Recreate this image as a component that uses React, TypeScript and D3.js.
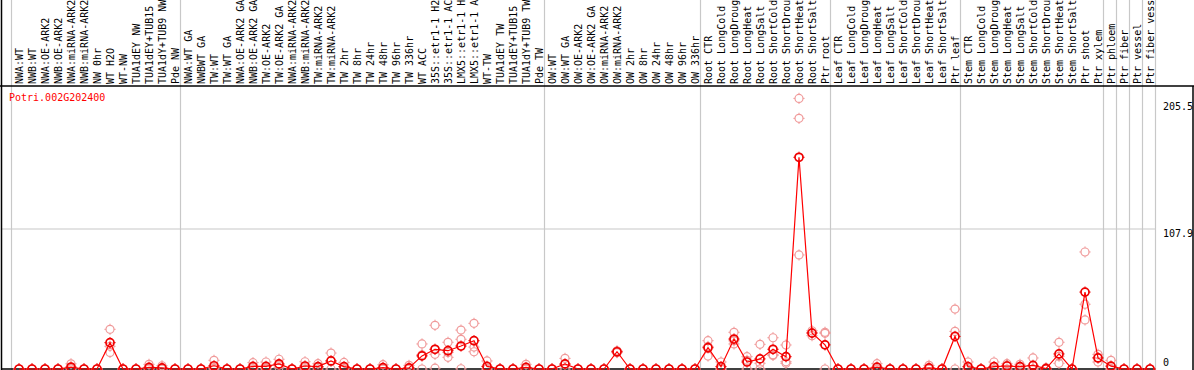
import React from 'react';
import * as d3 from 'd3';

const title = "Potri.002G202400";

const labels: string[] = [
  "NWA:WT", "NWB:WT", "NWA:OE-ARK2", "NWB:OE-ARK2", "NWA:miRNA-ARK2", "NWB:miRNA-ARK2", "NW 0hr", "WT H2O", "WT-NW", "TUA1dEY NW", "TUA1dEY+TUB15 NW", "TUA1dY+TUB9 NW", "Pde NW",
  "NWA:WT GA", "NWBWT GA", "TW:WT", "TW:WT GA", "NWA:OE-ARK2 GA", "NWB:OE-ARK2 GA", "TW:OE-ARK2", "TW:OE-ARK2 GA", "NWA:miRNA-ARK2", "NWB:miRNA-ARK2", "TW:miRNA-ARK2", "TW:miRNA-ARK2", "TW 2hr", "TW 8hr", "TW 24hr", "TW 48hr", "TW 96hr", "TW 336hr", "WT ACC", "35S::etr1-1 H2O", "35S::etr1-1 ACC", "LMX5::etr1-1 H2O", "LMX5::etr1-1 ACC", "WT-TW", "TUA1dEY TW", "TUA1dEY+TUB15 TW", "TUA1dY+TUB9 TW", "Pde TW",
  "OW:WT", "OW:WT GA", "OW:OE-ARK2", "OW:OE-ARK2 GA", "OW:miRNA-ARK2", "OW:miRNA-ARK2", "OW 2hr", "OW 8hr", "OW 24hr", "OW 48hr", "OW 96hr", "OW 336hr",
  "Root CTR", "Root LongCold", "Root LongDrought", "Root LongHeat", "Root LongSalt", "Root ShortCold", "Root ShortDrought", "Root ShortHeat", "Root ShortSalt", "Ptr root",
  "Leaf CTR", "Leaf LongCold", "Leaf LongDrought", "Leaf LongHeat", "Leaf LongSalt", "Leaf ShortCold", "Leaf ShortDrought", "Leaf ShortHeat", "Leaf ShortSalt", "Ptr leaf",
  "Stem CTR", "Stem LongCold", "Stem LongDrought", "Stem LongHeat", "Stem LongSalt", "Stem ShortCold", "Stem ShortDrought", "Stem ShortHeat", "Stem ShortSalt", "Ptr shoot", "Ptr xylem",
  "Ptr phloem", "Ptr fiber", "Ptr vessel", "Ptr fiber vessel",
];

const means: number[] = [
  0, 0, 0, 0, 1.5, 0, 0, 20.3, 0, 0, 1.3, 0.8, 0,
  0, 0, 2.5, 0, 0, 2, 2, 3.9, 0, 2.3, 1.8, 6.2, 1.8, 0, 0, 1.1, 0, 0.9, 10.1, 15.2, 14.1, 17.7, 21.8, 2, 0, 0, 1.2, 0,
  0, 3.9, 0, 0, 0, 13.3, 0, 0, 0, 0, 0, 0,
  16.4, 1.8, 23.1, 5.4, 7.8, 15.2, 9.5, 163.2, 27.7, 18.6,
  0, 0, 0, 1.4, 0, 0, 0, 0.9, 0, 25.1,
  1.8, 0, 1.8, 2.3, 1.8, 2.8, 0.3, 11.6, 0, 59.3, 8.5,
  2.2, 0, 0, 0,
];

const rep1: number[] = [
  0, 0, 0, 0, 4, 0, 0, 30.6, 0, 0, 3.6, 2.5, 0,
  0, 0, 6.7, 0, 0, 4.9, 5.4, 7.5, 0, 5.6, 4.1, 12.3, 5.1, 0, 0, 3.3, 0, 2.8, 19.3, 33.7, 20.6, 30, 35.2, 6.2, 0, 0, 3.6, 0,
  0, 8.2, 0, 0, 0, 14, 0, 0, 0, 0, 0, 0,
  21.8, 5.4, 28.3, 9.5, 19, 24.1, 18.5, 208.6, 29.5, 28.3,
  0, 0, 0, 4.1, 0, 0, 0, 2.8, 0, 46.2,
  5.4, 0, 5.4, 4.1, 3.6, 8.5, 1, 20.6, 0, 90.2, 11.3,
  6.7, 0, 0, 0,
];

const rep2: number[] = [
  0, 0, 0, 0, 0.5, 0, 0, 17.5, 0, 0, 0.3, 0, 0,
  0, 0, 0.8, 0, 0, 1, 0.6, 3, 0, 1.3, 1.3, 6.3, 0.3, 0, 0, 0, 0, 0, 11, 11.3, 12.7, 22.9, 16.9, 0, 0, 0, 0, 0,
  0, 3.5, 0, 0, 0, 13.3, 0, 0, 0, 0, 0, 0,
  17.4, 0, 21.7, 6.7, 4.4, 11, 5.6, 193.2, 28, 27.5,
  0, 0, 0, 0, 0, 0, 0, 0, 0, 29,
  0, 0, 0, 2.8, 1.8, 0, 0, 9.8, 0, 49.9, 8.8,
  0, 0, 0, 0,
];

const rep3: number[] = [
  0, 0, 0, 0, 0, 0, 0, 12.8, 0, 0, 0, 0, 0,
  0, 0, 0, 0, 0, 0, 0, 1.2, 0, 0, 0, 0, 0, 0, 0, 0, 0, 0, 0, 0.6, 9, 0.2, 13.3, 0, 0, 0, 0, 0,
  0, 0, 0, 0, 0, 12.6, 0, 0, 0, 0, 0, 0,
  10, 0, 19.3, 0, 0, 10.5, 4.4, 87.9, 25.7, 0,
  0, 0, 0, 0, 0, 0, 0, 0, 0, 0,
  0, 0, 0, 0, 0, 0, 0, 4.4, 0, 37.8, 5.4,
  0, 0, 0, 0,
];

const groupStarts: number[] = [0, 13, 41, 53, 63, 73, 84, 85, 86, 87];
const yTicks: number[] = [0, 107.9, 205.5];
const yMax = 205.5;

const FONT = "'DejaVu Sans Mono', 'Liberation Mono', monospace";

function Marker({ cx, cy, r, color, sw }: { cx: number; cy: number; r: number; color: string; sw: number }) {
  const t = 1.6;
  return (
    <g stroke={color} strokeWidth={sw} fill="none">
      <circle cx={cx} cy={cy} r={r} />
      <line x1={cx} y1={cy - r} x2={cx} y2={cy - r - t} strokeWidth={1} />
      <line x1={cx} y1={cy + r} x2={cx} y2={cy + r + t} strokeWidth={1} />
      <line x1={cx - r} y1={cy} x2={cx - r - t} y2={cy} strokeWidth={1} />
      <line x1={cx + r} y1={cy} x2={cx + r + t} y2={cy} strokeWidth={1} />
    </g>
  );
}

export default function App() {
  const W = 1194;
  const H = 370;
  const headerBottom = 86;
  const plotLeft = 1.5;
  const x = d3.scalePoint<number>().domain(d3.range(labels.length)).range([19, 1150]);
  const cx = (i: number) => x(i) as number;
  const plotRight = cx(labels.length - 1) + 5.5;
  const y = d3.scaleLinear().domain([0, yMax]).range([369, 102.4]);
  const linePath = d3.line<number>().x((_, i) => cx(i)).y((d) => y(d))(means) || '';
  const reps = [rep1, rep2, rep3];
  const sepXs = groupStarts.map((g) => cx(g) - 7.5);

  return (
    <div style={{ position: 'absolute', left: 0, top: 0 }}>
      <svg width={W} height={H} style={{ display: 'block', background: '#fff' }}>
        <rect x={0} y={0} width={W} height={H} fill="#fff" />
        {/* group separators */}
        {sepXs.map((sx, i) => (
          <line key={'s' + i} x1={sx} x2={sx} y1={0} y2={H} stroke="#c8c8c8" strokeWidth={1.2} />
        ))}
        <line x1={plotRight} x2={plotRight} y1={0} y2={H} stroke="#c8c8c8" strokeWidth={1.2} />
        {/* gridline */}
        {yTicks.filter((v) => v > 0 && v < yMax).map((v) => (
          <line key={'g' + v} x1={plotLeft} x2={plotRight} y1={y(v)} y2={y(v)} stroke="#c8c8c8" strokeWidth={1.2} />
        ))}
        {/* borders */}
        <line x1={0} x2={W} y1={headerBottom} y2={headerBottom} stroke="#000" strokeWidth={1.5} />
        <line x1={plotLeft} x2={plotLeft} y1={0} y2={H} stroke="#000" strokeWidth={1.5} />
        <line x1={W - 1} x2={W - 1} y1={headerBottom} y2={H} stroke="#000" strokeWidth={1.5} />
        <line x1={plotLeft} x2={plotRight} y1={y(0)} y2={y(0)} stroke="#000" strokeWidth={1.5} />
        {/* header labels */}
        {labels.map((lab, i) => (
          <text
            key={'l' + i}
            transform={`translate(${cx(i) + 3.6},84) rotate(-90)`}
            fontFamily={FONT}
            fontSize={10}
            fill="#000"
          >
            {lab}
          </text>
        ))}
        {/* title */}
        <text x={9} y={101} fontFamily={FONT} fontSize={10} fill="#ff0000">{title}</text>
        {/* y labels */}
        {yTicks.map((v) => (
          <text key={'t' + v} x={1163} y={v === 0 ? y(v) - 3 : y(v) + 8} fontFamily={FONT} fontSize={10} fill="#000">
            {String(v)}
          </text>
        ))}
        {/* replicates */}
        {reps.map((arr, k) =>
          arr.map((v, i) => (
            <Marker key={'r' + k + '-' + i} cx={cx(i)} cy={y(v)} r={4} color="#f09a9a" sw={1.2} />
          ))
        )}
        {/* mean line */}
        <path d={linePath} fill="none" stroke="#ff0000" strokeWidth={1.2} />
        {means.map((v, i) => (
          <Marker key={'m' + i} cx={cx(i)} cy={y(v)} r={4} color="#ee0000" sw={1.7} />
        ))}
      </svg>
    </div>
  );
}
